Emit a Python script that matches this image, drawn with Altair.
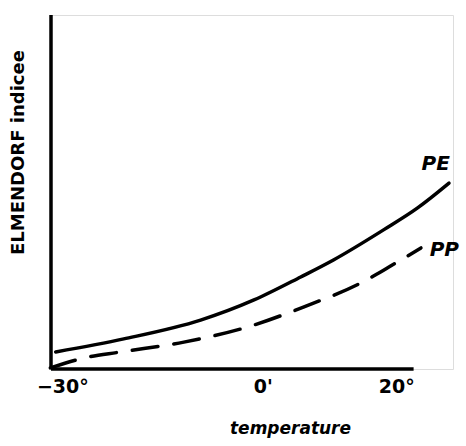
import altair as alt
import pandas as pd

# Values (temperature in °C, index in arbitrary units 0-100)
pe_temp = [-31.0, -20.8, -9.3, -1.3, 5.7, 10.6, 18.1, 23.2, 27.9]
pe_val = [4.8, 8.5, 13.8, 19.5, 26.0, 30.8, 39.3, 45.5, 52.5]
pp_temp = [-31.8, -26.8, -21.3, -11.8, -2.2, 6.1, 15.0, 18.9, 23.7]
pp_val = [0.3, 3.1, 4.8, 7.6, 11.9, 17.5, 24.6, 28.8, 34.2]
tick_values = [-30, 0, 20]
series_labels = ["PE", "PP"]
label_temp = [23.8, 25.0]
label_val = [58.0, 33.6]

XMIN, XMAX = -31.7, 28.5
YMIN, YMAX = 0, 100

pe = pd.DataFrame({"t": pe_temp, "v": pe_val, "s": "PE"})
pp = pd.DataFrame({"t": pp_temp, "v": pp_val, "s": "PP"})
labels = pd.DataFrame({"t": label_temp, "v": label_val, "s": series_labels})
xaxis_df = pd.DataFrame({"t": [XMIN], "t2": [22.6], "v": [0]})
yaxis_df = pd.DataFrame({"t": [XMIN], "v": [0], "v2": [YMAX]})

FONT = "DejaVu Sans"

xs = alt.Scale(domain=[XMIN, XMAX], nice=False, zero=False)
ys = alt.Scale(domain=[YMIN, YMAX], nice=False, zero=False)

x_enc = alt.X(
    "t:Q", scale=xs,
    axis=alt.Axis(
        values=tick_values, domain=False, ticks=False, grid=False,
        labelExpr="datum.value == 0 ? \"0'\" : format(datum.value, 'd') + '°'",
        labelFont=FONT, labelFontSize=19, labelFontWeight="bold", labelColor="black",
        labelPadding=8, title="temperature", titleFont=FONT, titleFontSize=17,
        titleFontStyle="italic", titleFontWeight="bold", titleColor="black",
        titleX=239, titleY=59, titleBaseline="middle",
    ),
)
y_enc = alt.Y(
    "v:Q", scale=ys,
    axis=alt.Axis(
        domain=False, ticks=False, labels=False, grid=False,
        title="ELMENDORF indicee", titleFont=FONT, titleFontSize=18,
        titleFontWeight="bold", titleColor="black",
        titleX=-33, titleY=137, titleAngle=-90, titleBaseline="middle",
    ),
)

base_x = alt.X("t:Q", scale=xs)
base_y = alt.Y("v:Q", scale=ys)

pe_line = alt.Chart(pe).mark_line(
    color="black", strokeWidth=3.5, interpolate="monotone", strokeCap="round"
).encode(x=x_enc, y=y_enc)

pp_line = alt.Chart(pp).mark_line(
    color="black", strokeWidth=3.5, interpolate="monotone", strokeDash=[26, 16],
    strokeCap="round"
).encode(x=base_x, y=base_y)

x_axis = alt.Chart(xaxis_df).mark_rule(color="black", strokeWidth=3.5).encode(
    x=base_x, x2="t2:Q", y=base_y
)
y_axis = alt.Chart(yaxis_df).mark_rule(color="black", strokeWidth=3.5).encode(
    x=base_x, y=base_y, y2="v2:Q"
)

text = alt.Chart(labels).mark_text(
    font=FONT, fontSize=20, fontStyle="italic", fontWeight="bold", color="black",
    align="left", baseline="middle"
).encode(x=base_x, y=base_y, text="s:N")

chart = alt.layer(pe_line, pp_line, x_axis, y_axis, text).properties(
    width=402, height=354,
    padding={"left": 51, "top": 15, "right": 13, "bottom": 77},
    autosize=alt.AutoSizeParams(type="none"),
).configure_view(stroke=None, clip=False).configure(background="white")

chart.save("out.html", embed_options={"renderer": "svg", "actions": False})
